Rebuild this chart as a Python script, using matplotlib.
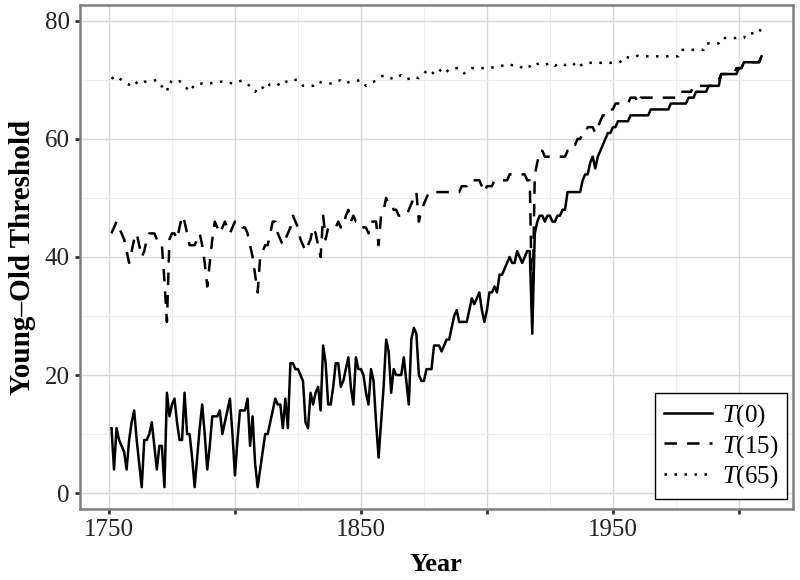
import numpy as np
import matplotlib
matplotlib.use("Agg")
import matplotlib.pyplot as plt
from matplotlib.ticker import MultipleLocator, FixedLocator

# === Data, one value per year 1751-2009
years = np.arange(1751, 2010)

t0 = [
    11, 4, 11, 9, 8, 7, 4, 9, 12, 14,
    9, 5, 1, 9, 9, 10, 12, 8, 4, 8,
    8, 1, 17, 13, 15, 16, 12, 9, 9, 17,
    10, 10, 6, 1, 6, 11, 15, 10, 4, 8,
    13, 13, 13, 14, 10, 12, 14, 16, 10, 3,
    9, 14, 14, 14, 16, 8, 13, 5, 1, 4,
    7, 10, 10, 12, 14, 16, 15, 15, 11, 16,
    11, 22, 22, 21, 21, 20, 19, 12, 11, 17,
    15, 17, 18, 14, 25, 22, 15, 15, 18, 22,
    22, 18, 19, 21, 23, 18, 15, 23, 21, 21,
    20, 17, 15, 21, 19, 12, 6, 12, 18, 26,
    24, 17, 21, 20, 20, 20, 23, 19, 15, 26,
    28, 27, 20, 19, 19, 21, 21, 21, 25, 25,
    25, 24, 25, 26, 26, 28, 30, 31, 29, 29,
    29, 29, 31, 33, 32, 33, 34, 31, 29, 31,
    34, 34, 35, 34, 37, 37, 38, 39, 40, 39,
    39, 41, 40, 39, 40, 41, 41, 27, 44, 46,
    47, 47, 46, 47, 47, 46, 46, 47, 47, 48,
    48, 51, 51, 51, 51, 51, 51, 53, 54, 54,
    56, 57, 55, 57, 58, 59, 60, 61, 61, 62,
    62, 63, 63, 63, 63, 63, 64, 64, 64, 64,
    64, 64, 64, 64, 65, 65, 65, 65, 65, 65,
    65, 65, 66, 66, 66, 66, 66, 66, 66, 67,
    67, 67, 68, 68, 68, 68, 68, 69, 69, 69,
    69, 69, 71, 71, 71, 71, 71, 71, 71, 72,
    72, 73, 73, 73, 73, 73, 73, 73, 74,
]

t15 = [
    44, 45, 46, 45, 44, 43, 41, 39, 41, 43,
    44, 42, 40, 41, 43, 44, 44, 44, 43, 42,
    42, 36, 29, 43, 44, 44, 43, 45, 47, 46,
    44, 42, 42, 42, 43, 44, 42, 39, 35, 39,
    43, 46, 45, 44, 45, 46, 45, 44, 45, 46,
    46, 46, 45, 45, 44, 42, 40, 37, 34, 40,
    41, 42, 42, 44, 46, 46, 44, 43, 42, 43,
    44, 45, 47, 46, 45, 43, 42, 41, 42, 43,
    45, 44, 42, 40, 47, 43, 45, 45, 45, 45,
    46, 45, 45, 47, 48, 46, 47, 46, 46, 46,
    45, 45, 44, 46, 46, 46, 42, 47, 48, 50,
    49, 49, 48, 48, 47, 47, 47, 47, 48, 49,
    50, 51, 46, 48, 49, 50, 51, 51, 51, 51,
    51, 51, 51, 51, 51, 51, 51, 51, 51, 52,
    52, 52, 53, 53, 53, 53, 53, 52, 51, 52,
    52, 52, 53, 53, 53, 53, 53, 53, 54, 54,
    54, 54, 54, 54, 54, 53, 53, 30, 54, 56,
    58, 58, 57, 57, 57, 57, 57, 57, 57, 57,
    57, 58, 58, 59, 59, 60, 60, 61, 61, 62,
    62, 62, 61, 62, 63, 64, 64, 65, 65, 65,
    66, 66, 66, 66, 66, 66, 67, 67, 67, 66,
    67, 67, 67, 67, 67, 67, 67, 67, 67, 67,
    67, 67, 67, 67, 67, 67, 68, 68, 68, 68,
    68, 69, 69, 69, 69, 69, 69, 69, 69, 69,
    70, 70, 71, 71, 71, 71, 71, 71, 72, 72,
    72, 73, 73, 73, 73, 73, 73, 73, 74,
]

t65 = [
    70.2, 70.5, 70.7, 70.3, 70.0, 69.6, 69.4, 69.2, 69.6, 69.9,
    69.5, 69.2, 69.5, 69.7, 69.7, 69.7, 69.8, 69.9, 70.0, 69.4,
    68.9, 68.4, 68.0, 69.8, 69.6, 69.4, 69.7, 69.8, 69.5, 69.1,
    68.5, 68.0, 68.6, 69.2, 69.3, 69.3, 69.4, 69.3, 69.3, 69.4,
    69.5, 69.6, 69.7, 69.7, 69.7, 69.6, 69.5, 69.5, 69.4, 69.4,
    69.6, 69.8, 69.9, 69.6, 69.3, 68.9, 68.4, 68.0, 68.5, 69.0,
    68.7, 68.3, 68.9, 69.3, 69.4, 69.5, 69.3, 69.1, 69.0, 69.5,
    70.0, 70.0, 70.0, 70.0, 70.0, 69.5, 69.0, 69.0, 69.0, 69.0,
    69.0, 69.4, 69.8, 69.6, 69.4, 69.4, 69.4, 69.4, 69.4, 69.6,
    69.9, 69.9, 69.5, 69.4, 69.6, 69.7, 69.7, 69.8, 69.9, 70.0,
    69.5, 69.0, 69.3, 69.6, 69.7, 69.9, 70.3, 70.6, 70.7, 70.8,
    70.6, 70.3, 70.1, 70.4, 70.6, 70.8, 70.4, 70.1, 70.2, 70.4,
    70.6, 70.4, 70.3, 70.7, 71.1, 71.5, 71.8, 71.4, 71.0, 71.4,
    71.8, 71.4, 71.0, 71.4, 71.8, 72.0, 72.0, 72.0, 72.0, 71.6,
    71.1, 71.5, 71.8, 72.0, 72.0, 72.0, 72.0, 72.0, 72.0, 72.0,
    72.0, 72.1, 72.2, 72.3, 72.3, 72.4, 72.5, 72.7, 72.6, 72.5,
    72.5, 72.4, 72.4, 72.0, 72.3, 72.5, 72.3, 72.0, 72.4, 72.7,
    72.8, 72.6, 72.5, 72.7, 72.9, 72.7, 72.4, 72.6, 72.8, 72.7,
    72.5, 72.7, 72.8, 72.9, 72.5, 72.0, 72.4, 72.7, 72.9, 72.9,
    72.9, 72.9, 72.9, 72.9, 72.9, 72.9, 72.9, 72.9, 72.9, 72.9,
    72.9, 72.9, 73.1, 73.5, 74.0, 73.8, 73.7, 73.8, 74.0, 74.1,
    74.0, 74.0, 74.0, 74.0, 74.0, 74.0, 74.0, 74.0, 74.0, 74.0,
    74.0, 74.0, 74.0, 74.0, 74.0, 74.0, 75.1, 75.1, 75.1, 75.1,
    75.1, 75.1, 75.1, 75.1, 75.1, 75.1, 76.2, 76.2, 76.2, 76.2,
    76.2, 76.2, 77.1, 77.1, 77.1, 77.1, 77.1, 77.1, 77.1, 77.1,
    77.1, 77.1, 77.9, 77.9, 77.9, 77.9, 77.9, 77.9, 79.0,
]

labels = [r"$T$(0)", r"$T$(15)", r"$T$(65)"]
x_major = [1750, 1800, 1850, 1900, 1950, 2000]
x_labels = ["1750", "", "1850", "", "1950", ""]
y_major = [0, 20, 40, 60, 80]

# === Style
plt.rcParams["font.family"] = ["Liberation Serif", "DejaVu Serif"]
plt.rcParams["mathtext.fontset"] = "custom"
plt.rcParams["mathtext.rm"] = "Liberation Serif"
plt.rcParams["mathtext.it"] = "Liberation Serif:italic"

fig = plt.figure(figsize=(8, 5.8), dpi=100)
ax = fig.add_axes([0.1, 0.1224, 0.891, 0.869])

lw = 1.8
ax.plot(years, t0, color="black", lw=lw, linestyle="-", label=labels[0])
ax.plot(years, t15, color="black", lw=lw, linestyle=(0, (5, 4)), label=labels[1])
ax.plot(years, t65, color="black", lw=lw, linestyle=(0, (1, 3)), label=labels[2])

ax.set_xlim(1738.5, 2021.4)
ax.set_ylim(-2.7, 82.7)

ax.xaxis.set_major_locator(FixedLocator(x_major))
ax.set_xticklabels(x_labels)
ax.xaxis.set_minor_locator(MultipleLocator(25))
ax.yaxis.set_major_locator(FixedLocator(y_major))
ax.yaxis.set_minor_locator(MultipleLocator(10))

ax.grid(True, which="major", color="#d9d9d9", lw=1.0)
ax.grid(True, which="minor", color="#eeeeee", lw=0.8)
ax.set_axisbelow(True)

ax.tick_params(which="major", length=3.5, width=2, color="#333333",
               labelsize=18, labelcolor="#222222", pad=4)
ax.tick_params(which="minor", length=0)

for s in ax.spines.values():
    s.set_color("#7f7f7f")
    s.set_linewidth(1.8)

ax.set_xlabel("Year", fontsize=19, fontweight="bold", labelpad=8)
ax.set_ylabel("Young–Old Threshold", fontsize=21, fontweight="bold", labelpad=6)

leg = ax.legend(loc="lower right", bbox_to_anchor=(1 - 6 / 713, 10 / 504),
                borderaxespad=0, fancybox=False, framealpha=1,
                edgecolor="black", fontsize=18, handlelength=1.9,
                labelspacing=0.15, borderpad=0.35, handletextpad=0.4)
leg.get_frame().set_linewidth(1.0)

fig.savefig("out.png", dpi=100)
